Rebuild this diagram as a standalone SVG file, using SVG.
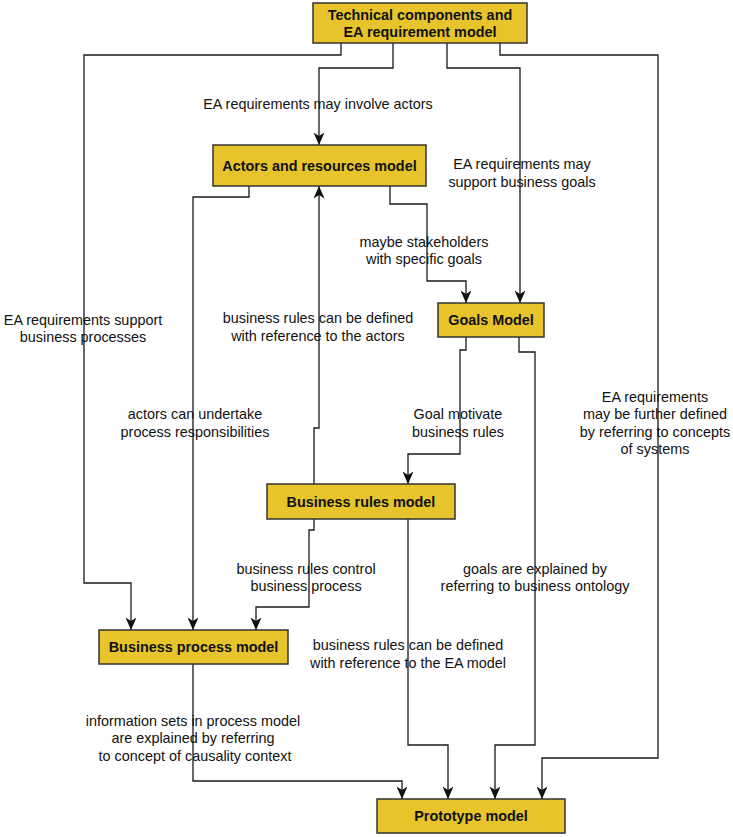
<svg xmlns="http://www.w3.org/2000/svg" width="733" height="837" viewBox="0 0 733 837">
<style>
.node rect{fill:#E8C42C;stroke:#333;stroke-width:1.5}
.node text{font-family:"Liberation Sans",Arial,sans-serif;font-size:14.4px;font-weight:bold;fill:#111;text-anchor:middle}
.edges polyline{fill:none;stroke:#1a1a1a;stroke-width:1.3;marker-end:url(#arr)}
.lbl{font-family:"Liberation Sans",Arial,sans-serif;font-size:14.4px;fill:#111;text-anchor:middle}
</style>
<defs>
<marker id="arr" markerUnits="userSpaceOnUse" markerWidth="13" markerHeight="12" refX="12.5" refY="5.5" orient="auto" viewBox="0 0 13 11">
<path d="M0,0 L12.5,5.5 L0,11 L3.5,5.5 Z" fill="#111"/>
</marker>
</defs>
<rect width="733" height="837" fill="#fff"/>
<g class="edges" id="connectors">
<polyline points="393,43 393,68 319,68 319,145"/>
<polyline points="447,43 447,68 520,68 520,303"/>
<polyline points="341,43 341,55 84,55 84,583 131,583 131,630"/>
<polyline points="500,43 500,55 658,55 658,758 542,758 542,799"/>
<polyline points="390,186 390,204 427,204 427,281 466,281 466,303"/>
<polyline points="249,186 249,197 193,197 193,630"/>
<polyline points="314,484 314,428 319,428 319,186"/>
<polyline points="466,337 466,350 460,350 460,454 408,454 408,484"/>
<polyline points="519,337 519,352 535,352 535,745 495,745 495,799"/>
<polyline points="314,519 314,530 309,530 309,607 256,607 256,630"/>
<polyline points="408,519 408,745 448,745 448,799"/>
<polyline points="193,664 193,781 402,781 402,799"/>
</g>
<g id="labels" class="lbl">
<text x="318" y="109">EA requirements may involve actors</text>
<text x="522" y="169">EA requirements may</text>
<text x="522" y="187">support business goals</text>
<text x="424" y="247">maybe stakeholders</text>
<text x="424" y="264">with specific goals</text>
<text x="83" y="325">EA requirements support</text>
<text x="83" y="342">business processes</text>
<text x="318" y="323">business rules can be defined</text>
<text x="318" y="341">with reference to the actors</text>
<text x="195" y="419">actors can undertake</text>
<text x="195" y="437">process responsibilities</text>
<text x="458" y="419">Goal motivate</text>
<text x="458" y="437">business rules</text>
<text x="655" y="402">EA requirements</text>
<text x="655" y="419">may be further defined</text>
<text x="655" y="437">by referring to concepts</text>
<text x="655" y="454">of systems</text>
<text x="535" y="574">goals are explained by</text>
<text x="535" y="591">referring to business ontology</text>
<text x="306" y="574">business rules control</text>
<text x="306" y="591">business process</text>
<text x="408" y="650">business rules can be defined</text>
<text x="408" y="668">with reference to the EA model</text>
<text x="193" y="726">information sets in process model</text>
<text x="193" y="743">are explained by referring</text>
<text x="193" y="761">&#160;to concept of causality context</text>
</g>
<g class="node" id="technical">
<rect x="313" y="3" width="214" height="40"/>
<text x="420" y="19.5">Technical components and</text>
<text x="420" y="37">EA requirement model</text>
</g>
<g class="node" id="actors">
<rect x="213" y="145" width="213" height="41"/>
<text x="319.5" y="170.5">Actors and resources model</text>
</g>
<g class="node" id="goals">
<rect x="438" y="303" width="106" height="34"/>
<text x="491" y="325">Goals Model</text>
</g>
<g class="node" id="rules">
<rect x="267" y="484" width="188" height="35"/>
<text x="361" y="507">Business rules model</text>
</g>
<g class="node" id="process">
<rect x="99" y="630" width="189" height="34"/>
<text x="193.5" y="652">Business process model</text>
</g>
<g class="node" id="prototype">
<rect x="377" y="799" width="188" height="34"/>
<text x="471" y="821">Prototype model</text>
</g>
</svg>
